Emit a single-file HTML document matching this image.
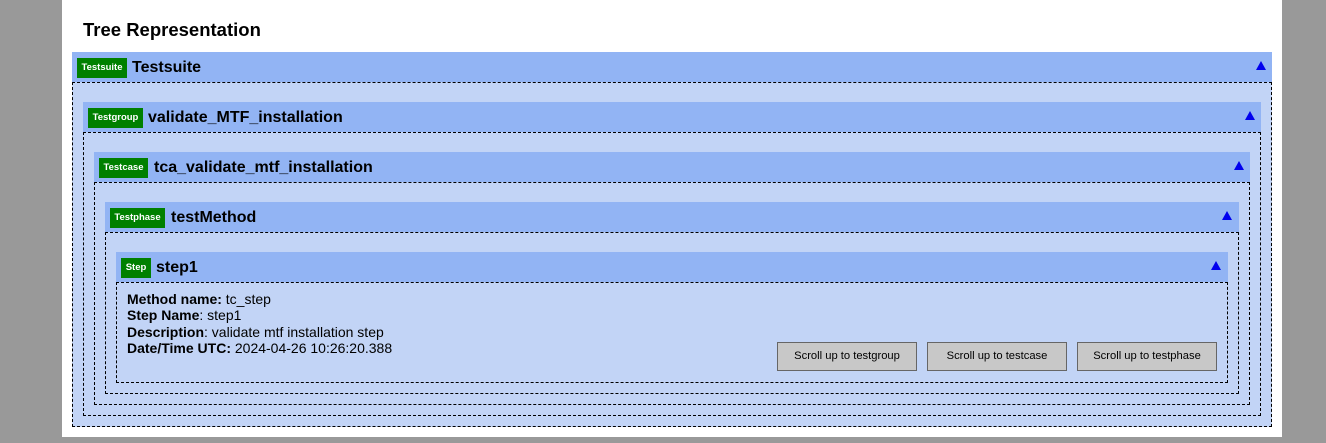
<!DOCTYPE html>
<html><head><meta charset="utf-8"><style>
body{margin:0;width:1326px;height:443px;background:#999;position:relative;overflow:hidden;font-family:"Liberation Sans",Arial,sans-serif}
.w{position:absolute;left:62px;top:0;width:1220px;height:437px;background:#fff}
h1{position:absolute;left:83px;top:19px;margin:0;font-size:18.5px;font-weight:bold;color:#000}
.hd{position:absolute;background:#92b4f4;height:30px}
.bd{position:absolute;background:#c2d4f6;border:1px dashed #000;box-sizing:border-box}
.bg{position:absolute;background:#008000;color:#fff;font-size:9.5px;font-weight:bold;height:20px;line-height:20px;text-align:center}
.t{position:absolute;font-size:16px;font-weight:bold;color:#000;line-height:20px}
.tr{position:absolute;width:0;height:0;border-left:5px solid transparent;border-right:5px solid transparent;border-bottom:9px solid #0000ee}
.info{position:absolute;left:127px;top:291px;font-size:14px;line-height:16.3px;color:#000}
.btn{position:absolute;top:342px;width:140px;height:29px;background:#c8c8c8;border:1px solid #666;box-sizing:border-box;font-size:11.2px;text-align:center;line-height:27px;color:#000}
</style></head><body>
<div class="w"></div>
<h1>Tree Representation</h1>

<div class="bd" style="left:72px;top:82px;width:1200px;height:345px"></div>
<div class="hd" style="left:72px;top:52px;width:1200px"></div>
<div class="bg" style="left:77px;top:58px;width:50px">Testsuite</div>
<div class="t" style="left:132px;top:58px">Testsuite</div>
<div class="tr" style="left:1256px;top:61px"></div>

<div class="bd" style="left:83px;top:132px;width:1178px;height:284px"></div>
<div class="hd" style="left:83px;top:102px;width:1178px"></div>
<div class="bg" style="left:88px;top:108px;width:55px">Testgroup</div>
<div class="t" style="left:148px;top:108px">validate_MTF_installation</div>
<div class="tr" style="left:1245px;top:111px"></div>

<div class="bd" style="left:94px;top:182px;width:1156px;height:223px"></div>
<div class="hd" style="left:94px;top:152px;width:1156px"></div>
<div class="bg" style="left:99px;top:158px;width:49px">Testcase</div>
<div class="t" style="left:154px;top:158px">tca_validate_mtf_installation</div>
<div class="tr" style="left:1234px;top:161px"></div>

<div class="bd" style="left:105px;top:232px;width:1134px;height:162px"></div>
<div class="hd" style="left:105px;top:202px;width:1134px"></div>
<div class="bg" style="left:110px;top:208px;width:55px">Testphase</div>
<div class="t" style="left:171px;top:208px">testMethod</div>
<div class="tr" style="left:1222px;top:211px"></div>

<div class="bd" style="left:116px;top:282px;width:1112px;height:101px"></div>
<div class="hd" style="left:116px;top:252px;width:1112px"></div>
<div class="bg" style="left:121px;top:258px;width:30px">Step</div>
<div class="t" style="left:156px;top:258px">step1</div>
<div class="tr" style="left:1211px;top:261px"></div>

<div class="info"><b>Method name:</b> tc_step<br><b>Step Name</b>: step1<br><b>Description</b>: validate mtf installation step<br><b>Date/Time UTC:</b> 2024-04-26 10:26:20.388</div>
<div class="btn" style="left:777px">Scroll up to testgroup</div>
<div class="btn" style="left:927px">Scroll up to testcase</div>
<div class="btn" style="left:1077px">Scroll up to testphase</div>
</body></html>
